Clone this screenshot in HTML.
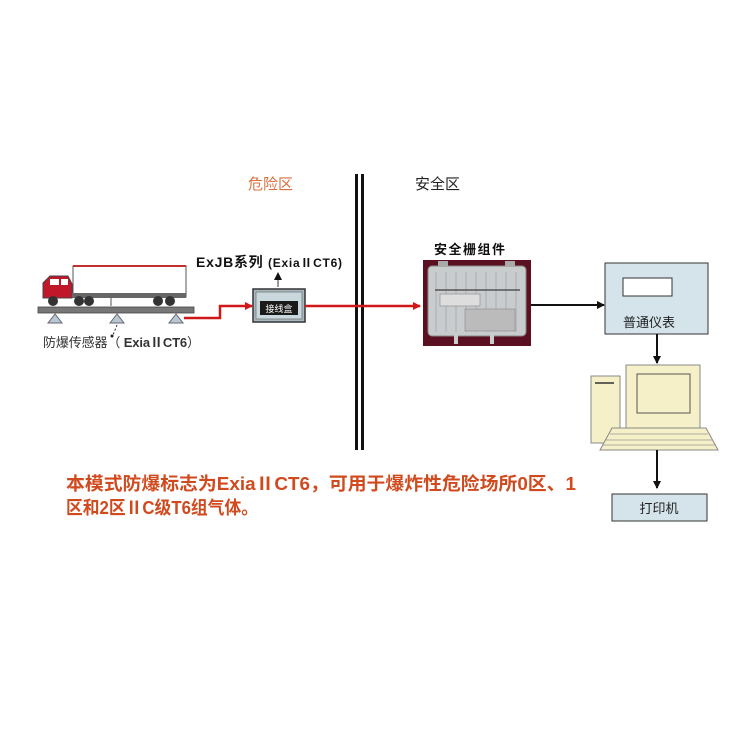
<!DOCTYPE html>
<html><head><meta charset="utf-8"><style>
html,body{margin:0;padding:0;background:#fff;width:750px;height:750px;overflow:hidden}
svg{display:block}
text{font-family:"Liberation Sans","Noto Sans CJK SC",sans-serif}
</style></head><body>
<svg width="750" height="750" viewBox="0 0 750 750" xmlns="http://www.w3.org/2000/svg">
<defs>
<marker id="ar" markerWidth="8" markerHeight="8" refX="7" refY="4" orient="auto" markerUnits="userSpaceOnUse"><path d="M0,0 L8,4 L0,8 z" fill="#111"/></marker>
<marker id="arr" markerWidth="8" markerHeight="8" refX="7" refY="4" orient="auto" markerUnits="userSpaceOnUse"><path d="M0,0 L8,4 L0,8 z" fill="#d01818"/></marker>
</defs>
<text x="248" y="189" font-size="15" fill="#d9703f">危险区</text>
<text x="415" y="189" font-size="15" fill="#222">安全区</text>
<rect x="355" y="174" width="3" height="276" fill="#111"/>
<rect x="361" y="174" width="3" height="276" fill="#111"/>
<rect x="73" y="266" width="113" height="31" fill="#fff" stroke="#555" stroke-width="1"/>
<line x1="73" y1="266" x2="186" y2="266" stroke="#c03030" stroke-width="2"/>
<path d="M43,298 L43,283 L50,276 L68,276 L72,284 L72,298 z" fill="#c0182a" stroke="#444" stroke-width="1"/>
<rect x="50" y="279" width="9" height="6" fill="#fff"/>
<rect x="61" y="279" width="7" height="6" fill="#fff"/>
<rect x="72" y="293" width="114" height="5" fill="#666"/>
<g fill="#333">
<circle cx="53" cy="301" r="5"/><circle cx="79" cy="301" r="5"/><circle cx="89" cy="301" r="5"/>
<circle cx="158" cy="301" r="5"/><circle cx="170" cy="301" r="5"/>
</g>
<line x1="111" y1="298" x2="111" y2="306" stroke="#555"/>
<rect x="38" y="307" width="156" height="6" fill="#777" stroke="#444" stroke-width="0.8"/>
<g fill="#b8c8d0" stroke="#667" stroke-width="1">
<path d="M55,314 L48,323 L62,323 z"/><path d="M117,314 L110,323 L124,323 z"/><path d="M176,314 L169,323 L183,323 z"/>
</g>
<path d="M117,325 L113,335" stroke="#222" stroke-dasharray="2,2" fill="none"/>
<circle cx="112" cy="336" r="1.5" fill="#222"/>
<text x="43" y="347" font-size="13" fill="#333" textLength="157" lengthAdjust="spacing">防爆传感器（ <tspan font-weight="bold">ExiaⅡCT6</tspan>）</text>
<path d="M184,318 L220,318 L220,306 L252,306" stroke="#d01818" stroke-width="2.5" fill="none" marker-end="url(#arr)"/>
<text x="196" y="267" font-size="14" font-weight="bold" fill="#111" textLength="146" lengthAdjust="spacing">ExJB系列 <tspan font-size="12">(ExiaⅡCT6)</tspan></text>
<line x1="278" y1="287" x2="278" y2="273" stroke="#333" stroke-width="1" marker-end="url(#ar)"/>
<rect x="253" y="289" width="52" height="33" fill="#a8b8c0" stroke="#333" stroke-width="1.5"/>
<rect x="256" y="292" width="46" height="27" fill="#c8d8dc" stroke="#777" stroke-width="0.8"/>
<rect x="260" y="301" width="38" height="14" fill="#1a1a1a"/>
<text x="279" y="312" font-size="9" fill="#fff" text-anchor="middle">接线盒</text>
<line x1="305" y1="306" x2="420" y2="306" stroke="#d01818" stroke-width="2.5" marker-end="url(#arr)"/>
<text x="434" y="254" font-size="13" font-weight="bold" fill="#111" letter-spacing="1.5">安全栅组件</text>
<rect x="423" y="260" width="108" height="86" fill="#5a1020"/>
<rect x="428" y="266" width="98" height="70" rx="4" fill="#c9cccc" stroke="#888"/>
<g stroke="#aab" stroke-width="1">
<line x1="436" y1="272" x2="436" y2="332"/><line x1="446" y1="272" x2="446" y2="332"/><line x1="456" y1="272" x2="456" y2="332"/><line x1="466" y1="272" x2="466" y2="332"/><line x1="476" y1="272" x2="476" y2="332"/><line x1="486" y1="272" x2="486" y2="332"/><line x1="496" y1="272" x2="496" y2="332"/><line x1="506" y1="272" x2="506" y2="332"/><line x1="516" y1="272" x2="516" y2="332"/>
</g>
<line x1="435" y1="290" x2="520" y2="290" stroke="#555" stroke-width="1.5"/>
<rect x="440" y="294" width="40" height="12" fill="#ddd" stroke="#888" stroke-width="0.6"/>
<rect x="465" y="309" width="50" height="22" fill="#bbb" stroke="#888" stroke-width="0.6"/>
<rect x="438" y="261" width="10" height="6" fill="#aaa"/><rect x="505" y="261" width="10" height="6" fill="#aaa"/>
<rect x="454" y="334" width="4" height="10" fill="#ccc"/><rect x="490" y="334" width="4" height="10" fill="#ccc"/>
<line x1="531" y1="305" x2="604" y2="305" stroke="#111" stroke-width="2" marker-end="url(#ar)"/>
<rect x="605" y="263" width="103" height="71" fill="#d4e4ea" stroke="#333" stroke-width="1"/>
<rect x="623" y="278" width="49" height="18" fill="#fff" stroke="#333" stroke-width="1"/>
<text x="623" y="327" font-size="13" fill="#222">普通仪表</text>
<line x1="657" y1="334" x2="657" y2="363" stroke="#111" stroke-width="2" marker-end="url(#ar)"/>
<rect x="591" y="376" width="29" height="67" fill="#f6f0c8" stroke="#888"/>
<line x1="595" y1="383" x2="614" y2="383" stroke="#333" stroke-width="1.5"/>
<rect x="626" y="365" width="74" height="63" fill="#f6f0c8" stroke="#888"/>
<rect x="637" y="374" width="53" height="39" fill="#f6f0c8" stroke="#555"/>
<path d="M612,428 L706,428 L718,450 L600,450 z" fill="#f6f0c8" stroke="#888"/>
<g stroke="#999" stroke-width="0.8"><line x1="610" y1="434" x2="708" y2="434"/><line x1="606" y1="440" x2="712" y2="440"/><line x1="603" y1="445" x2="715" y2="445"/></g>
<line x1="657" y1="450" x2="657" y2="488" stroke="#111" stroke-width="2" marker-end="url(#ar)"/>
<rect x="612" y="494" width="95" height="27" fill="#d4e4ea" stroke="#333" stroke-width="1"/>
<text x="659" y="513" font-size="13" fill="#222" text-anchor="middle">打印机</text>
<text x="66" y="490" font-size="18" font-weight="bold" fill="#d04a1e" textLength="510" lengthAdjust="spacingAndGlyphs">本模式防爆标志为ExiaⅡCT6，可用于爆炸性危险场所0区、1</text>
<text x="66" y="514" font-size="18" font-weight="bold" fill="#d04a1e" textLength="192" lengthAdjust="spacingAndGlyphs">区和2区ⅡC级T6组气体。</text>
</svg>
</body></html>
